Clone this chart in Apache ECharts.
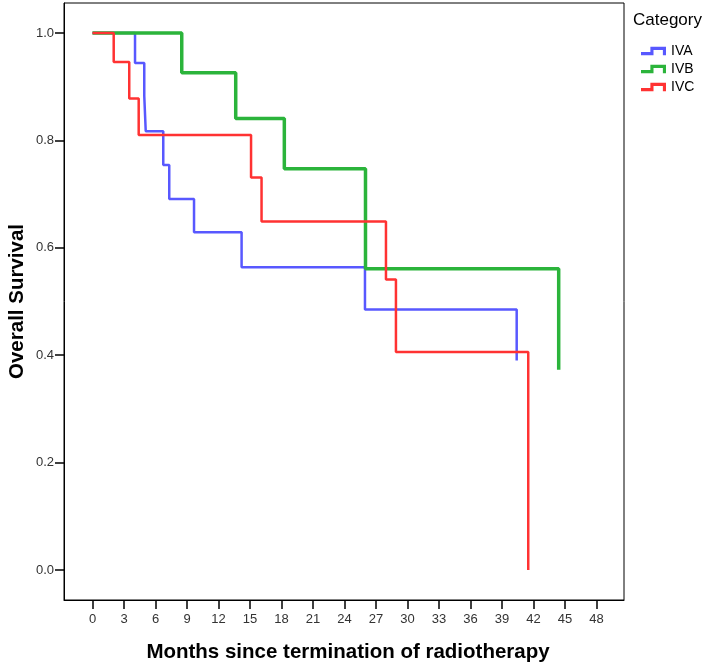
<!DOCTYPE html>
<html>
<head>
<meta charset="utf-8">
<script src="https://cdn.jsdelivr.net/npm/echarts@6/dist/echarts.min.js"></script>
<style>
html,body{margin:0;padding:0;background:#fff;}
#chart{width:709px;height:665px;}
</style>
</head>
<body>
<div id="chart"></div>
<script>
// Kaplan-Meier steps: [months, survival]
const seriesNames = ['IVA', 'IVB', 'IVC'];
const ivaData = [[0,1],[4.05,0.944],[4.93,0.883],[5.07,0.817],[6.74,0.754],[7.31,0.691],[9.67,0.629],[14.2,0.564],[25.95,0.485],[40.4,0.390]];
const ivbData = [[0,1],[8.5,0.926],[13.64,0.841],[18.27,0.747],[26.0,0.561],[44.4,0.373]];
const ivcData = [[0,1],[2.02,0.946],[3.5,0.878],[4.4,0.810],[15.1,0.731],[16.1,0.649],[27.95,0.541],[28.9,0.406],[41.5,0]];
const xTicks = [0,3,6,9,12,15,18,21,24,27,30,33,36,39,42,45,48];
const yTicks = [0,0.2,0.4,0.6,0.8,1.0];
const colors = ['#5858ff', '#2bb43b', '#ff3232'];
const widths = [2.5, 3.5, 2.5];
const allData = [ivaData, ivbData, ivcData];

const chart = echarts.init(document.getElementById('chart'));
const iconPath = 'path://M0 5 L9 5 L9 0 L24 0 L24 8 L21 8 L21 3 L12 3 L12 8 L0 8 Z';
chart.setOption({
  animation: false,
  backgroundColor: '#fff',
  textStyle: { fontFamily: 'Liberation Sans, Arial, sans-serif' },
  grid: { left: 64, right: 85, top: 3, bottom: 65, containLabel: false, outerBoundsMode: 'none', show: true, borderColor: '#000', borderWidth: 1, backgroundColor: 'transparent' },
  title: {
    text: 'Category', left: 633, top: 12, padding: 0,
    textStyle: { fontSize: 17, fontWeight: 'normal', color: '#000', fontFamily: 'Liberation Sans, Arial, sans-serif' }
  },
  legend: {
    orient: 'vertical', left: 641, top: 44, padding: 0, itemWidth: 25, itemHeight: 9, itemGap: 4,
    icon: iconPath,
    textStyle: { fontSize: 14, color: '#000', padding: [0,0,0,0] },
    data: seriesNames
  },
  xAxis: {
    type: 'value', min: -2.714, max: 50.62,
    name: 'Months since termination of radiotherapy', nameLocation: 'middle', nameGap: 42,
    nameTextStyle: { fontSize: 20.5, fontWeight: 'bold', color: '#000', padding: [0,0,0,8] },
    axisLine: { show: true, onZero: false, lineStyle: { color: '#000', width: 1 } },
    axisTick: { show: true, inside: false, length: 9, customValues: xTicks, lineStyle: { color: '#000', width: 1.5 } },
    axisLabel: { customValues: xTicks, fontSize: 13, color: '#333', margin: 13 },
    splitLine: { show: false }
  },
  yAxis: {
    type: 'value', min: -0.0559, max: 1.0559,
    name: 'Overall Survival', nameLocation: 'middle', nameGap: 36, nameRotate: 90, nameMoveOverlap: false,
    nameTextStyle: { fontSize: 20.5, fontWeight: 'bold', color: '#000' },
    axisLine: { show: true, onZero: false, lineStyle: { color: '#000', width: 1 } },
    axisTick: { show: true, inside: false, length: 9, customValues: yTicks, lineStyle: { color: '#000', width: 1.5 } },
    axisLabel: { customValues: yTicks, fontSize: 13, color: '#333', margin: 10, formatter: v => v.toFixed(1) },
    splitLine: { show: false }
  },
  series: seriesNames.map((n, i) => ({
    name: n, type: 'line', step: 'end', showSymbol: false, symbol: 'none',
    data: allData[i], color: colors[i],
    lineStyle: { color: colors[i], width: widths[i] },
    z: 2 + i
  }))
});
</script>
</body>
</html>
